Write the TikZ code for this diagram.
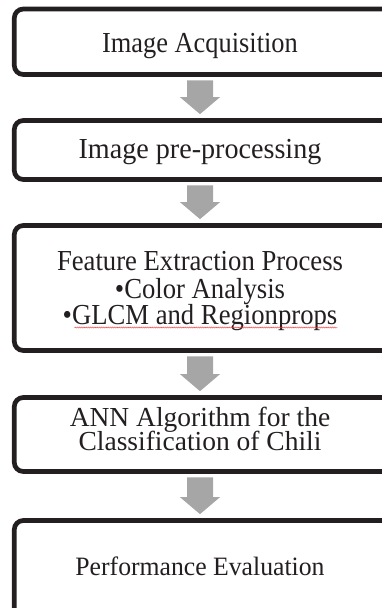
\documentclass[tikz,border=0pt]{standalone}
\usepackage{fontspec}
\setmainfont{Liberation Serif}
\newfontfamily\fa[FakeStretch=0.91]{Liberation Serif}
\newfontfamily\fb[FakeStretch=0.97]{Liberation Serif}
\newfontfamily\fc[FakeStretch=0.92]{Liberation Serif}
\newfontfamily\fd{Liberation Serif}
\newfontfamily\fe[FakeStretch=0.97]{Liberation Serif}
\usetikzlibrary{calc,decorations.pathmorphing}
\definecolor{boxline}{HTML}{231F20}
\definecolor{arrowgray}{HTML}{A6A6A6}
\definecolor{txt}{HTML}{231F20}
\tikzset{
  stepbox/.style={draw=boxline, line width=4.7pt, rounded corners=9pt, minimum width=385.4pt, inner sep=0pt},
  boxtext/.style={anchor=base, inner sep=0pt, text=txt, text height=17pt, text depth=4pt},
}
\newcommand\fatarrow[2]{%
  \fill[arrowgray] let \p1=($(#1.south)+(0,3.5)$), \p2=($(#2.north)+(0,-4)$) in
    (187pt,\y1) -- (213pt,\y1) -- (213pt,\y2+17pt) -- (220pt,\y2+17pt) -- (200pt,\y2)
    -- (180pt,\y2+17pt) -- (187pt,\y2+17pt) -- cycle;}
\begin{document}
\begin{tikzpicture}[x=1pt,y=-1pt]
\useasboundingbox (0,0) rectangle (382,608);
\clip (0,0) rectangle (382,608);
% boxes
\node[stepbox, minimum height=65.5pt] (b1) at (207,41.75) {};
\node[stepbox, minimum height=59pt]   (b2) at (207,150) {};
\node[stepbox, minimum height=125pt]  (b3) at (207,288) {};
\node[stepbox, minimum height=74pt]   (b4) at (207,434.5) {};
\node[stepbox, minimum height=140pt]  (b5) at (207,590.5) {};
% texts
\node[boxtext, font=\fa\fontsize{29}{29}\selectfont] (t1) at (200,52) {Image Acquisition};
\node[boxtext, font=\fb\fontsize{29}{29}\selectfont] (t2) at (200,158) {Image pre-processing};
\node[boxtext, font=\fc\fontsize{29}{29}\selectfont] (t3a) at (200,270) {Feature Extraction Process};
\node[boxtext, font=\fc\fontsize{29}{29}\selectfont] (t3b) at (200,298.5) {•Color Analysis};
\node[boxtext, font=\fc\fontsize{29}{29}\selectfont] (t3c) at (200,324.5) {•GLCM and Regionprops};
\node[boxtext, font=\fd\fontsize{27.5}{27.5}\selectfont] (t4a) at (200,426) {ANN Algorithm for the};
\node[boxtext, font=\fd\fontsize{27.5}{27.5}\selectfont] (t4b) at (200,450) {Classification of Chili};
\node[boxtext, font=\fe\fontsize{26.5}{26.5}\selectfont] (t5) at (200,575) {Performance Evaluation};
% spell-check squiggle
\draw[red!80, line width=0.4pt, decorate, decoration={snake, amplitude=0.6pt, segment length=2.2pt}]
  ($(t3c.base west)+(12,3)$) -- ($(t3c.base east)+(0,3)$);
% arrows
\fatarrow{b1}{b2}
\fatarrow{b2}{b3}
\fatarrow{b3}{b4}
\fatarrow{b4}{b5}
\end{tikzpicture}
\end{document}
